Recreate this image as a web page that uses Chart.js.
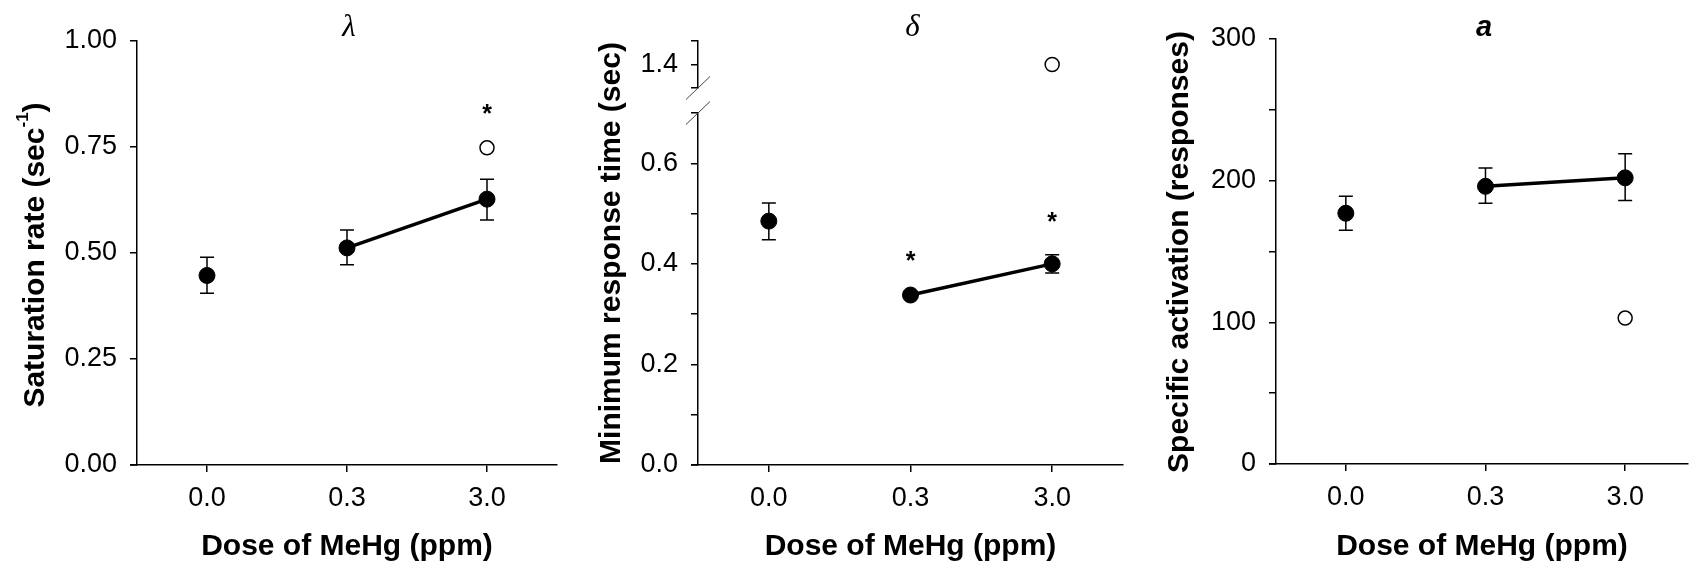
<!DOCTYPE html>
<html><head><meta charset="utf-8">
<script src="https://cdn.jsdelivr.net/npm/chart.js@4/dist/chart.umd.min.js"></script>
<style>
html,body{margin:0;padding:0;background:#fff;}
body{width:1697px;height:567px;position:relative;overflow:hidden;}
canvas{position:absolute;top:0;}
</style></head><body>
<canvas id="c1" width="566" height="567" style="left:0px"></canvas>
<canvas id="c2" width="566" height="567" style="left:566px"></canvas>
<canvas id="c3" width="565" height="567" style="left:1132px"></canvas>
<script>
// ---------- data ----------
const doses = ['0.0', '0.3', '3.0'];

// Panel 1: lambda, saturation rate
const lambdaMean    = [0.447, 0.512, 0.627];
const lambdaErrHigh = [0.490, 0.554, 0.674];
const lambdaErrLow  = [0.405, 0.472, 0.578];
const lambdaOpen    = [null, null, 0.748];
const lambdaStar    = [null, null, 0.842];
const lambdaTicks      = [0, 0.25, 0.5, 0.75, 1.0];
const lambdaTickLabels = ['0.00', '0.25', '0.50', '0.75', '1.00'];

// Panel 2: delta, minimum response time (broken axis)
const deltaMean    = [0.485, 0.338, 0.400];
const deltaErrHigh = [0.521, 0.345, 0.418];
const deltaErrLow  = [0.448, 0.331, 0.382];
const deltaOpen    = [null, null, 1.4];
const deltaStar    = [null, 0.418, 0.496];
const deltaTicks      = [0, 0.1, 0.2, 0.3, 0.4, 0.5, 0.6, 0.7];
const deltaTickLabels = ['0.0', '', '0.2', '', '0.4', '', '0.6', ''];
const deltaTopTicks      = [1.35, 1.4, 1.45];
const deltaTopTickLabels = ['', '1.4', ''];

// Panel 3: a, specific activation
const aMean    = [177, 196, 202];
const aErrHigh = [189, 209, 219];
const aErrLow  = [165, 184, 186];
const aOpen    = [null, null, 103];
const aStar    = [null, null, null];
const aTicks      = [0, 50, 100, 150, 200, 250, 300];
const aTickLabels = ['0', '', '100', '', '200', '', '300'];

// ---------- helpers ----------
const FONT = '"Liberation Sans", Arial, sans-serif';
Chart.defaults.font.family = FONT;
Chart.defaults.color = '#000';

function pts(arr) {
  const out = [];
  arr.forEach((y, i) => { if (y !== null) out.push({x: i, y: y}); });
  return out;
}

function yAxis(min, max, ticks, labels, width, extra) {
  return Object.assign({
    type: 'linear', position: 'left', min: min, max: max,
    afterBuildTicks: s => { s.ticks = ticks.map(v => ({value: v})); },
    afterFit: s => { s.width = width; },
    ticks: {callback: (v, i) => labels[i], color: '#000', font: {size: 27}, padding: 13, autoSkip: false, maxRotation: 0},
    grid: {drawOnChartArea: false, drawTicks: true, tickLength: 7, color: '#000', lineWidth: 1.5},
    border: {display: true, color: '#000', width: 1.5}
  }, extra || {});
}

function xAxis(max, height) {
  return {
    type: 'linear', min: -0.5, max: max,
    afterBuildTicks: s => { s.ticks = doses.map((d, i) => ({value: i})); },
    afterFit: s => { s.height = height; },
    ticks: {callback: (v, i) => doses[i], color: '#000', font: {size: 27}, padding: 10, autoSkip: false, maxRotation: 0},
    grid: {drawOnChartArea: false, drawTicks: true, tickLength: 7, color: '#000', lineWidth: 1.5},
    border: {display: true, color: '#000', width: 1.5},
    title: {display: true, text: 'Dose of MeHg (ppm)', color: '#000', font: {size: 30, weight: 'bold'}, padding: {top: 0, bottom: 2}}
  };
}

function makeDeco(cfg) {
  return {
    id: 'deco',
    beforeDatasetsDraw(chart) {
      const ctx = chart.ctx, xs = chart.scales.x, ys = chart.scales[cfg.yId];
      ctx.save();
      ctx.strokeStyle = '#000'; ctx.lineWidth = 1.5;
      cfg.mean.forEach((m, i) => {
        const x = xs.getPixelForValue(i);
        const yh = ys.getPixelForValue(cfg.hi[i]);
        const yl = ys.getPixelForValue(cfg.lo[i]);
        ctx.beginPath();
        ctx.moveTo(x, yh); ctx.lineTo(x, yl);
        ctx.moveTo(x - 7, yh); ctx.lineTo(x + 7, yh);
        ctx.moveTo(x - 7, yl); ctx.lineTo(x + 7, yl);
        ctx.stroke();
      });
      ctx.restore();
    },
    afterDatasetsDraw(chart) {
      const ctx = chart.ctx, xs = chart.scales.x, ys = chart.scales[cfg.yId];
      ctx.save();
      ctx.fillStyle = '#000';
      ctx.font = 'bold 25px ' + FONT;
      ctx.textAlign = 'center'; ctx.textBaseline = 'alphabetic';
      cfg.star.forEach((s, i) => {
        if (s === null) return;
        ctx.fillText('*', xs.getPixelForValue(i), ys.getPixelForValue(s) + 14);
      });
      ctx.restore();
    },
    afterDraw(chart) {
      const ctx = chart.ctx, ca = chart.chartArea;
      ctx.save();
      // x axis extends a little left of the y axis
      ctx.strokeStyle = '#000'; ctx.lineWidth = 1.5;
      ctx.beginPath(); ctx.moveTo(ca.left - 7, ca.bottom); ctx.lineTo(ca.left, ca.bottom); ctx.stroke();
      // panel title
      ctx.fillStyle = '#000';
      ctx.font = cfg.titleFont;
      ctx.textAlign = 'center'; ctx.textBaseline = 'alphabetic';
      ctx.fillText(cfg.title, (ca.left + ca.right) / 2 + 2, 36);
      // y title
      ctx.translate(cfg.yTitleX, cfg.yTitleY);
      ctx.rotate(-Math.PI / 2);
      ctx.textAlign = 'left';
      const parts = cfg.yTitle;
      let total = 0;
      parts.forEach(p => {
        ctx.font = 'bold ' + (p.sup ? 17 : 30) + 'px ' + FONT;
        p.w = ctx.measureText(p.t).width; total += p.w;
      });
      let xx = -total / 2;
      parts.forEach(p => {
        ctx.font = 'bold ' + (p.sup ? 17 : 30) + 'px ' + FONT;
        ctx.fillText(p.t, xx, p.sup ? -16 : 0);
        xx += p.w;
      });
      ctx.restore();
      // axis break marks
      if (cfg.breakAxis) {
        const top = chart.scales.yTop, low = chart.scales.y;
        ctx.save();
        ctx.strokeStyle = '#444'; ctx.lineWidth = 1;
        [top.bottom, low.top].forEach(yy => {
          ctx.beginPath();
          ctx.moveTo(ca.left - 12, yy + 11.5); ctx.lineTo(ca.left + 12, yy - 11.5);
          ctx.stroke();
        });
        ctx.restore();
      }
    }
  };
}

function meanDataset(mean, yId) {
  return {
    data: pts(mean), yAxisID: yId,
    borderColor: '#000', borderWidth: 3.5,
    pointRadius: 8, pointBackgroundColor: '#000', pointBorderColor: '#000', pointBorderWidth: 1,
    segment: {borderColor: c => c.p0DataIndex === 0 ? 'rgba(0,0,0,0)' : undefined},
    order: 1
  };
}
function openDataset(open, yId) {
  return {
    data: pts(open), yAxisID: yId, showLine: false,
    pointRadius: 7, pointBackgroundColor: '#fff', pointBorderColor: '#000', pointBorderWidth: 1.5,
    order: 2
  };
}

function baseOptions(scales, padTop, padRight) {
  return {
    responsive: false, maintainAspectRatio: false, animation: false, devicePixelRatio: 1,
    layout: {padding: {left: 0, top: padTop, right: padRight, bottom: 0}},
    plugins: {legend: {display: false}, tooltip: {enabled: false}, title: {display: false}},
    scales: scales
  };
}

const SERIF_TITLE = 'italic 31px "Liberation Serif", "DejaVu Serif", serif';

// ---------- panel 1 ----------
new Chart(document.getElementById('c1'), {
  type: 'line',
  data: {datasets: [meanDataset(lambdaMean, 'y'), openDataset(lambdaOpen, 'y')]},
  options: baseOptions({
    x: xAxis(2.5, 102),
    y: yAxis(0, 1, lambdaTicks, lambdaTickLabels, 137)
  }, 41, 1),
  plugins: [makeDeco({
    yId: 'y', mean: lambdaMean, hi: lambdaErrHigh, lo: lambdaErrLow, star: lambdaStar,
    title: 'λ', titleFont: SERIF_TITLE,
    yTitleX: 44, yTitleY: 255,
    yTitle: [{t: 'Saturation rate (sec'}, {t: '-1', sup: true}, {t: ')'}]
  })]
});

// ---------- panel 2 ----------
new Chart(document.getElementById('c2'), {
  type: 'line',
  data: {datasets: [meanDataset(deltaMean, 'y'), openDataset(deltaOpen, 'yTop')]},
  options: baseOptions({
    x: xAxis(2.5, 102),
    y: yAxis(0, 0.7, deltaTicks, deltaTickLabels, 132, {stack: 'v', stackWeight: 352, weight: 1}),
    yGap: {type: 'linear', position: 'left', display: false, min: 0, max: 1, stack: 'v', stackWeight: 25, weight: 2, afterFit: s => { s.width = 132; }},
    yTop: yAxis(1.35, 1.45, deltaTopTicks, deltaTopTickLabels, 132, {stack: 'v', stackWeight: 47, weight: 3})
  }, 41, 7),
  plugins: [makeDeco({
    yId: 'y', mean: deltaMean, hi: deltaErrHigh, lo: deltaErrLow, star: deltaStar,
    title: 'δ', titleFont: SERIF_TITLE,
    yTitleX: 54, yTitleY: 253, breakAxis: true,
    yTitle: [{t: 'Minimum response time (sec)'}]
  })]
});

// ---------- panel 3 ----------
new Chart(document.getElementById('c3'), {
  type: 'line',
  data: {datasets: [meanDataset(aMean, 'y'), openDataset(aOpen, 'y')]},
  options: baseOptions({
    x: xAxis(2.45, 103),
    y: yAxis(0, 300, aTicks, aTickLabels, 144)
  }, 39, 0),
  plugins: [makeDeco({
    yId: 'y', mean: aMean, hi: aErrHigh, lo: aErrLow, star: aStar,
    title: 'a', titleFont: 'italic bold 29px ' + FONT,
    yTitleX: 56, yTitleY: 252,
    yTitle: [{t: 'Specific activation (responses)'}]
  })]
});
</script>
</body></html>
